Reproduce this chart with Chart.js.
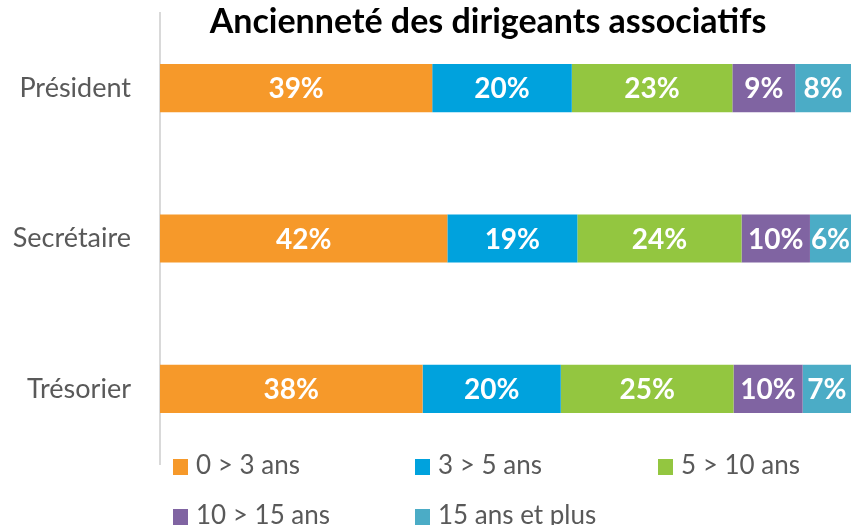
<!DOCTYPE html>
<html>
<head>
<meta charset="utf-8">
<script src="https://cdn.jsdelivr.net/npm/chart.js@4"></script>
<style>
  body { margin: 0; background: #fff; }
  #wrap { position: relative; width: 854px; height: 525px; }
  #title {
    position: absolute; left: 160px; width: 656px; top: 0px;
    text-align: center; font: bold 34px Lato, sans-serif; color: #000;
    line-height: 40px;
  }
  .leg {
    position: absolute; font: 26px Lato, sans-serif; color: #595959;
    white-space: nowrap; line-height: 26px;
  }
  .leg span {
    display: inline-block; width: 15px; height: 16px; margin-right: 8px;
    vertical-align: -1px;
  }
</style>
</head>
<body>
<div id="wrap">
  <canvas id="chartBar" width="854" height="525"></canvas>
  <div id="title">Ancienneté des dirigeants associatifs</div>
</div>
<script>
const categories = ["Président", "Secrétaire", "Trésorier"];
const seriesNames = ["0 > 3 ans", "3 > 5 ans", "5 > 10 ans", "10 > 15 ans", "15 ans et plus"];
const colors = ["#F6992A", "#00A2DD", "#93C640", "#8064A2", "#4BACC6"];

const ans0to3 = [39, 42, 38];
const ans3to5 = [20, 19, 20];
const ans5to10 = [23, 24, 25];
const ans10to15 = [9, 10, 10];
const ans15plus = [8, 6, 7];

const series = [ans0to3, ans3to5, ans5to10, ans10to15, ans15plus];

// 100% stacked: each row is scaled to its own total, labels keep the raw value
const totals = categories.map((c, i) => series.reduce((s, arr) => s + arr[i], 0));

const grey = "#595959";

const barLabels = {
  id: "barLabels",
  afterDatasetsDraw(chart) {
    const ctx = chart.ctx;
    ctx.save();
    ctx.fillStyle = "#fff";
    ctx.font = "bold 28px Lato, sans-serif";
    ctx.textAlign = "center";
    ctx.textBaseline = "middle";
    chart.data.datasets.forEach((ds, di) => {
      chart.getDatasetMeta(di).data.forEach((bar, i) => {
        const cx = (bar.x + bar.base) / 2;
        ctx.fillText(ds.raw[i] + "%", cx, bar.y + 1);
      });
    });
    ctx.restore();
  },
};

const dataBar = {
  labels: categories,
  datasets: series.map((arr, k) => ({
    label: seriesNames[k],
    raw: arr,
    data: arr.map((v, i) => (v / totals[i]) * 100),
    backgroundColor: colors[k],
    borderWidth: 0,
    barPercentage: 0.64,
    categoryPercentage: 0.5,
  })),
};

const configBar = {
  type: "bar",
  data: dataBar,
  plugins: [barLabels],
  options: {
    indexAxis: "y",
    responsive: false,
    animation: false,
    layout: { padding: { top: 13, right: 3, bottom: 61, left: 0 } },
    plugins: {
      legend: { display: false },
      title: { display: false },
      tooltip: { enabled: false },
    },
    scales: {
      x: { stacked: true, min: 0, max: 100, display: false },
      y: {
        stacked: true,
        grid: { display: false, drawTicks: false },
        border: { display: true, color: "#D9D9D9", width: 2 },
        ticks: { color: grey, font: { family: "Lato", size: 27 }, padding: 29 },
        afterFit(scale) {
          scale.width = 160;
          scale.paddingTop = 0;
          scale.paddingBottom = 0;
        },
      },
    },
  },
};

const chartBar = new Chart(document.getElementById("chartBar"), configBar);

// legend laid out in columns like the original
const legPos = [[173, 451], [415, 451], [658, 451], [173, 501], [415, 501]];
seriesNames.forEach((name, k) => {
  const d = document.createElement("div");
  d.className = "leg";
  d.style.left = legPos[k][0] + "px";
  d.style.top = legPos[k][1] + "px";
  d.innerHTML = '<span style="background:' + colors[k] + '"></span>' + name;
  document.getElementById("wrap").appendChild(d);
});
</script>
</body>
</html>
